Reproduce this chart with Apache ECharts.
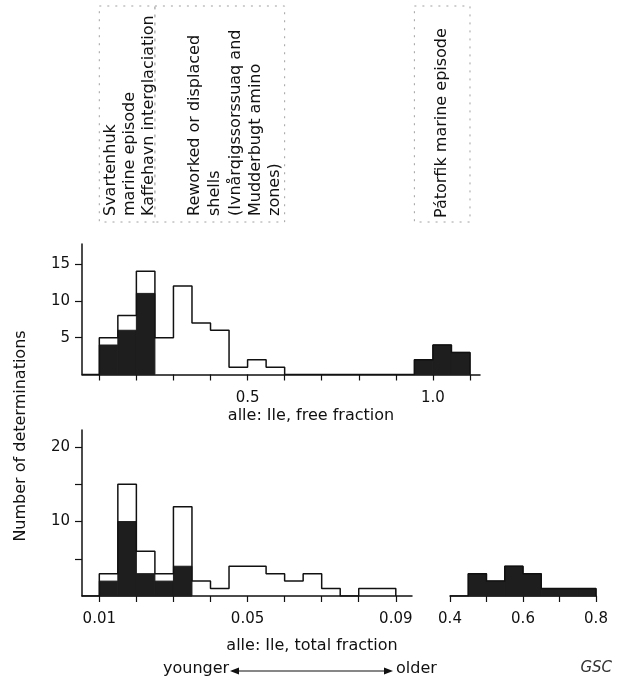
<!DOCTYPE html>
<html>
<head>
<meta charset="utf-8">
<title>alle:Ile determinations</title>
<script src="https://cdn.jsdelivr.net/npm/echarts@6/dist/echarts.min.js"></script>
<style>
  html, body { margin: 0; padding: 0; background: #fff; }
  #chart { width: 618px; height: 679px; }
</style>
</head>
<body>
<div id="chart"></div>
<script>
// alle:Ile free fraction, bins 0.05 wide (left edges)
const freeBins = [0.10, 0.15, 0.20, 0.25, 0.30, 0.35, 0.40, 0.45, 0.50, 0.55,
  0.60, 0.65, 0.70, 0.75, 0.80, 0.85, 0.90, 0.95, 1.00, 1.05];
const freeAll = [5, 8, 14, 5, 12, 7, 6, 1, 2, 1, 0, 0, 0, 0, 0, 0, 0, 2, 4, 3];
const freeMarine = [4, 6, 11, 0, 0, 0, 0, 0, 0, 0, 0, 0, 0, 0, 0, 0, 0, 2, 4, 3];
const freeWidth = 0.05;

// alle:Ile total fraction, low range, bins 0.005 wide
const totalBins = [0.010, 0.015, 0.020, 0.025, 0.030, 0.035, 0.040, 0.045,
  0.050, 0.055, 0.060, 0.065, 0.070, 0.075, 0.080, 0.085];
const totalAll = [3, 15, 6, 3, 12, 2, 1, 4, 4, 3, 2, 3, 1, 0, 1, 1];
const totalMarine = [2, 10, 3, 2, 4, 0, 0, 0, 0, 0, 0, 0, 0, 0, 0, 0];
const totalWidth = 0.005;

// alle:Ile total fraction, high range (Pátorfik), bins 0.05 wide
const highBins = [0.45, 0.50, 0.55, 0.60, 0.65, 0.70, 0.75];
const highMarine = [3, 2, 4, 3, 1, 1, 1];
const highWidth = 0.05;

// ticks and labels
const freeTicks = [0.1, 0.2, 0.3, 0.4, 0.5, 0.6, 0.7, 0.8, 0.9, 1.0, 1.1];
const freeLabels = [0.5, 1.0];
const totalTicks = [0.01, 0.02, 0.03, 0.04, 0.05, 0.06, 0.07, 0.08, 0.09];
const totalLabels = [0.01, 0.05, 0.09];
const highTicks = [0.4, 0.5, 0.6, 0.7, 0.8];
const highLabels = [0.4, 0.6, 0.8];
const freeCountTicks = [5, 10, 15];
const totalCountTicks = [5, 10, 15, 20];
const totalCountLabels = [10, 20];

const font = "DejaVu Sans";
const ink = "#111";
const fillDark = "#1e1e1e";

function outline(bins, counts, w, from) {
  const pts = [[from, 0]];
  bins.forEach((b, i) => pts.push([b, counts[i]]));
  pts.push([bins[bins.length - 1] + w, 0]);
  return pts;
}

function blocks(bins, counts, w) {
  return bins.map((b, i) => [b, b + w, counts[i]]).filter(d => d[2] > 0);
}

function renderBlock(params, api) {
  const p0 = api.coord([api.value(0), 0]);
  const p1 = api.coord([api.value(1), api.value(2)]);
  return {
    type: "rect",
    shape: { x: p0[0], y: p1[1], width: p1[0] - p0[0], height: p0[1] - p1[1] },
    style: { fill: fillDark, stroke: fillDark, lineWidth: 1 }
  };
}

function xAxisOf(gridIndex, min, max, ticks, labels, digits) {
  return {
    type: "value", gridIndex, min, max,
    axisLine: { show: true, onZero: false, lineStyle: { color: ink, width: 1.5 } },
    axisTick: { show: true, customValues: ticks, length: 6, lineStyle: { color: ink, width: 1.2 } },
    axisLabel: {
      customValues: labels, margin: 16, color: ink, fontFamily: font, fontSize: 15,
      formatter: v => v.toFixed(digits)
    },
    splitLine: { show: false }
  };
}

function yAxisOf(gridIndex, max, ticks, labels, show) {
  return {
    type: "value", gridIndex, min: 0, max, show,
    axisLine: { show: true, lineStyle: { color: ink, width: 1.5 } },
    axisTick: { show: true, customValues: ticks, length: 7, lineStyle: { color: ink, width: 1.2 } },
    axisLabel: { customValues: labels, margin: 12, color: ink, fontFamily: font, fontSize: 15 },
    splitLine: { show: false }
  };
}

function stepLine(xi, pts) {
  return {
    type: "line", xAxisIndex: xi, yAxisIndex: xi, data: pts, step: "end",
    symbol: "none", silent: true, z: 3,
    lineStyle: { color: ink, width: 1.5 }
  };
}

function blockSeries(xi, data) {
  return {
    type: "custom", xAxisIndex: xi, yAxisIndex: xi, data,
    renderItem: renderBlock, silent: true, z: 2
  };
}

function txt(x, y, text, extra) {
  return {
    type: "text", x, y, silent: true,
    style: Object.assign({ text, font: "16px " + font, fill: ink }, extra || {})
  };
}

function upText(x, y, text, align) {
  const el = txt(x, y, text, { align: align || "left", verticalAlign: "middle" });
  el.rotation = Math.PI / 2;
  return el;
}

const chart = echarts.init(document.getElementById("chart"));

chart.setOption({
  backgroundColor: "#fff",
  animation: false,
  grid: [
    { left: 82, top: 244, width: 398, height: 130.5 },
    { left: 82, top: 430, width: 330, height: 166 },
    { left: 450, top: 430, width: 146, height: 166 }
  ],
  xAxis: [
    xAxisOf(0, 0.0533, 1.127, freeTicks, freeLabels, 1),
    xAxisOf(1, 0.00533, 0.09437, totalTicks, totalLabels, 2),
    xAxisOf(2, 0.4, 0.8, highTicks, highLabels, 1)
  ],
  yAxis: [
    yAxisOf(0, 17.7, freeCountTicks, freeCountTicks, true),
    yAxisOf(1, 22.3, totalCountTicks, totalCountLabels, true),
    yAxisOf(2, 22.3, totalCountTicks, totalCountLabels, false)
  ],
  series: [
    blockSeries(0, blocks(freeBins, freeMarine, freeWidth)),
    stepLine(0, outline(freeBins, freeAll, freeWidth, 0.0533)),
    blockSeries(1, blocks(totalBins, totalMarine, totalWidth)),
    stepLine(1, outline(totalBins, totalAll, totalWidth, 0.00533)),
    blockSeries(2, blocks(highBins, highMarine, highWidth)),
    stepLine(2, outline(highBins, highMarine, highWidth, 0.4))
  ]
});

// zone boxes above the top histogram, placed on the free-fraction axis
const zones = [[0.1, 0.25], [0.25, 0.6], [0.95, 1.1]];
const zoneBoxes = zones.map(z => {
  const a = chart.convertToPixel({ xAxisIndex: 0 }, z[0]);
  const b = chart.convertToPixel({ xAxisIndex: 0 }, z[1]);
  return {
    type: "rect", silent: true,
    shape: { x: a, y: 6, width: b - a, height: 216 },
    style: { fill: "none", stroke: "#a0a0a0", lineWidth: 1, lineDash: [2, 6] }
  };
});

chart.setOption({
  graphic: zoneBoxes.concat([
    upText(111, 216, "Svartenhuk"),
    upText(130, 216, "marine episode"),
    upText(149, 216, "Kaffehavn interglaciation"),
    upText(195, 216, "Reworked or displaced"),
    upText(215, 216, "shells"),
    upText(236, 216, "(Ivnårqigssorssuaq and"),
    upText(256, 216, "Mudderbugt amino"),
    upText(275, 216, "zones)"),
    upText(442, 218, "Pátorfik marine episode"),
    upText(21, 436, "Number of determinations", "center"),
    txt(311, 416, "alle: Ile, free fraction", { align: "center", verticalAlign: "middle" }),
    txt(312, 646, "alle: Ile, total fraction", { align: "center", verticalAlign: "middle" }),
    txt(163, 669, "younger", { align: "left", verticalAlign: "middle" }),
    txt(396, 669, "older", { align: "left", verticalAlign: "middle" }),
    txt(612, 668, "GSC", { align: "right", verticalAlign: "middle", font: "italic 15px " + font, fill: "#333" }),
    {
      type: "line", silent: true,
      shape: { x1: 232, y1: 671, x2: 390, y2: 671 },
      style: { stroke: ink, lineWidth: 1.2 }
    },
    {
      type: "polygon", silent: true,
      shape: { points: [[230, 671], [239, 667.5], [239, 674.5]] },
      style: { fill: ink }
    },
    {
      type: "polygon", silent: true,
      shape: { points: [[393, 671], [384, 667.5], [384, 674.5]] },
      style: { fill: ink }
    }
  ])
});
</script>
</body>
</html>
